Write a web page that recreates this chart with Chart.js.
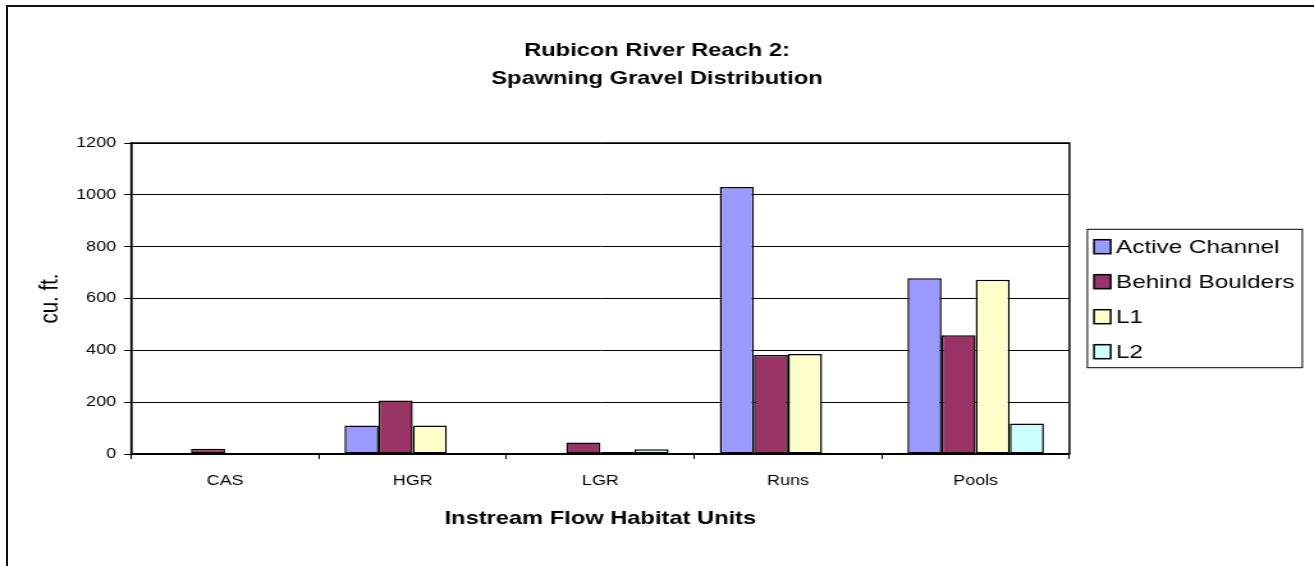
<!DOCTYPE html>
<html>
<head>
<meta charset="utf-8">
<title>Rubicon River Reach 2: Spawning Gravel Distribution</title>
<script src="https://cdn.jsdelivr.net/npm/chart.js@4.4.1/dist/chart.umd.min.js"></script>
<style>
  html, body { margin: 0; padding: 0; background: #fff; overflow: hidden; }
  #wrap { position: relative; width: 1314px; height: 566px; overflow: hidden; }
  /* outer chart frame, its right and bottom edges fall outside the picture */
  #frame { position: absolute; left: 6px; top: 5px; width: 1330px; height: 590px;
           border-left: 2px solid #111; border-top: 2px solid #111; }
  /* the original is stretched horizontally, so draw narrow and scale */
  #gravelChart { position: absolute; left: 0; top: 0; transform: scaleX(1.2794); transform-origin: 0 0; }
</style>
</head>
<body>
<div id="wrap">
  <div id="frame"></div>
  <canvas id="gravelChart" width="1027" height="566"></canvas>
</div>
<script>
'use strict';

/* --------------------------------------------------------------------------
   DATA (cu. ft.)
   -------------------------------------------------------------------------- */
const habitatUnits   = ['CAS', 'HGR', 'LGR', 'Runs', 'Pools'];
const activeChannel  = [0, 110, 0, 1030, 678];
const behindBoulders = [20, 206, 44, 382, 458];
const l1Values       = [0, 110, 8, 386, 672];
const l2Values       = [0, 0, 18, 0, 118];
const yTickValues    = [0, 200, 400, 600, 800, 1000, 1200];

const FONT = "'Liberation Sans', Arial, sans-serif";
const COLORS = {
    periwinkle: '#9999FF',
    plum:       '#993366',
    ivory:      '#FFFFCC',
    aqua:       '#CCFFFF',
};

/* --------------------------------------------------------------------------
   PLUGINS — plot frame + boxed legend on the right
   -------------------------------------------------------------------------- */
const plotFrame = {
    id: 'plotFrame',
    afterDraw(chart) {
        const { ctx, chartArea: a } = chart;
        ctx.save();
        ctx.strokeStyle = '#000';
        ctx.lineWidth = 1.5;
        ctx.strokeRect(a.left, a.top, a.right - a.left, a.bottom - a.top);
        ctx.restore();
    },
};

const boxedLegend = {
    id: 'boxedLegend',
    afterDraw(chart, args, opts) {
        const ctx = chart.ctx;
        ctx.save();
        ctx.strokeStyle = '#000';
        ctx.lineWidth = 1;
        ctx.strokeRect(opts.left, opts.top, opts.width, opts.height);
        ctx.font = opts.fontSize + 'px ' + FONT;
        ctx.textBaseline = 'middle';
        chart.data.datasets.forEach((ds, i) => {
            const y = opts.firstY + i * opts.pitch;
            ctx.fillStyle = ds.backgroundColor;
            ctx.fillRect(opts.boxX, y - opts.boxH / 2, opts.boxW, opts.boxH);
            ctx.lineWidth = 1.5;
            ctx.strokeRect(opts.boxX, y - opts.boxH / 2, opts.boxW, opts.boxH);
            ctx.fillStyle = '#000';
            ctx.fillText(ds.label, opts.textX, y + 1);
        });
        ctx.restore();
    },
};

/* --------------------------------------------------------------------------
   CHART
   -------------------------------------------------------------------------- */
function bar(label, data, color) {
    return {
        label, data,
        backgroundColor: color,
        borderColor: '#000',
        borderWidth: 1.5,
        borderSkipped: false,
        categoryPercentage: 4 / 5.5,
        barPercentage: 1,
    };
}

Chart.defaults.font.family = FONT;
Chart.defaults.color = '#000';

new Chart(document.getElementById('gravelChart').getContext('2d'), {
    type: 'bar',
    data: {
        labels: habitatUnits,
        datasets: [
            bar('Active Channel', activeChannel, COLORS.periwinkle),
            bar('Behind Boulders', behindBoulders, COLORS.plum),
            bar('L1', l1Values, COLORS.ivory),
            bar('L2', l2Values, COLORS.aqua),
        ],
    },
    options: {
        responsive: false,
        animation: false,
        devicePixelRatio: 1,
        events: [],
        layout: { padding: 0 },
        plugins: {
            legend: { display: false },
            tooltip: { enabled: false },
            title: {
                display: true,
                text: ['Rubicon River Reach 2:', 'Spawning Gravel Distribution'],
                font: { size: 18.5, weight: 'bold', lineHeight: 1.5 },
                padding: { top: 37.5, bottom: 50 },
                color: '#000',
            },
            boxedLegend: {
                left: 849.9, top: 229.3, width: 168, height: 138.4,
                firstY: 246.7, pitch: 35,
                boxX: 855.1, boxW: 13, boxH: 14,
                textX: 872.3, fontSize: 19,
            },
        },
        scales: {
            x: {
                offset: true,
                grid: { offset: true, drawOnChartArea: false, drawTicks: true, tickLength: 5, color: '#000', lineWidth: 1 },
                border: { color: '#000', width: 1.5 },
                ticks: { font: { size: 14 }, padding: 13.3, maxRotation: 0 },
                title: {
                    display: true, text: 'Instream Flow Habitat Units',
                    font: { size: 18.5, weight: 'bold', lineHeight: 1.2 },
                    padding: { top: 0, bottom: 35.9 },
                },
                afterFit: s => { s.height = 112; },
            },
            y: {
                min: yTickValues[0],
                max: yTickValues[yTickValues.length - 1],
                afterBuildTicks: s => { s.ticks = yTickValues.map(v => ({ value: v })); },
                grid: { color: '#000', lineWidth: 1, drawTicks: true, tickLength: 5.5 },
                border: { color: '#000', width: 1.5 },
                ticks: { font: { size: 14 }, padding: 6.4, callback: v => String(v) },
                title: {
                    display: true, text: 'cu. ft.',
                    font: { size: 20.5, lineHeight: 1.2 },
                    padding: { top: 26.8, bottom: 0 },
                },
                afterFit: s => { s.width = 102.6; },
            },
            // empty right-hand axis: only reserves the strip where the legend sits
            legendSpace: {
                type: 'linear',
                position: 'right',
                grid: { display: false },
                border: { display: false },
                ticks: { display: false },
                afterFit: s => { s.width = 191.1; },
            },
        },
    },
    plugins: [plotFrame, boxedLegend],
});
</script>
</body>
</html>
